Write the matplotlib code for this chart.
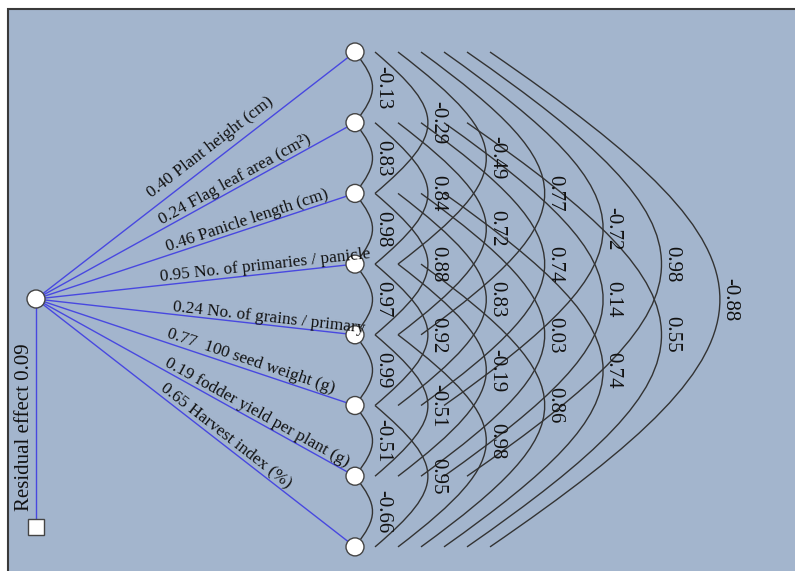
import numpy as np
import matplotlib.pyplot as plt
from matplotlib.path import Path
from matplotlib.patches import PathPatch, Circle, Rectangle

plt.rcParams['font.family'] = ['Liberation Serif', 'DejaVu Serif']

# traits and their direct effects on yield
traits = ['Plant height (cm)', 'Flag leaf area (cm²)', 'Panicle length (cm)',
          'No. of primaries / panicle', 'No. of grains / primary',
          ' 100 seed weight (g)', 'fodder yield per plant (g)', 'Harvest index (%)']
direct = [0.40, 0.24, 0.46, 0.95, 0.24, 0.77, 0.19, 0.65]
residual = 0.09

# correlations between trait i and trait i+gap, one list per gap
r_gap1 = [-0.13, 0.83, 0.98, 0.97, 0.99, -0.51, -0.66]
r_gap2 = [-0.29, 0.84, 0.88, 0.92, -0.51, 0.95]
r_gap3 = [-0.49, 0.72, 0.83, -0.19, 0.98]
r_gap4 = [0.77, 0.74, 0.03, 0.86]
r_gap5 = [-0.72, 0.14, 0.74]
r_gap6 = [0.98, 0.55]
r_gap7 = [-0.88]
corr = [r_gap1, r_gap2, r_gap3, r_gap4, r_gap5, r_gap6, r_gap7]

# layout in pixels (y runs downward)
node_x = 355
node_y = 52 + 70.7 * np.arange(len(traits))
root = (36, 299)
res_box = (36, 527)
label_x = [157, 164, 169, 161, 172, 165, 162, 157]
label_off = [9, 4, 4, 4, 3, 5, 4, 5]

fig = plt.figure(figsize=(7.95, 5.71), dpi=100)
ax = fig.add_axes([0, 0, 1, 1])
ax.set_xlim(0, 795)
ax.set_ylim(571, 0)
ax.axis('off')
ax.add_patch(Rectangle((8, 9), 820, 600, facecolor='#a3b5cd',
                       edgecolor='#3a3a3a', lw=1.5, zorder=0))

# correlation arcs
for g, vals in enumerate(corr, start=1):
    xs = node_x if g == 1 else node_x - 3 + 23 * (g - 1)
    sag = 17.5 + 35.4 * (g - 1)
    u = sag / 0.75
    for i, r in enumerate(vals):
        y1, y2 = node_y[i], node_y[i + g]
        v = 0.85 * (y2 - y1) / 2
        verts = [(xs, y1), (xs + u, y1 + v), (xs + u, y2 - v), (xs, y2)]
        path = Path(verts, [Path.MOVETO, Path.CURVE4, Path.CURVE4, Path.CURVE4])
        ax.add_patch(PathPatch(path, fill=False, ec='#333333', lw=1.0, zorder=2))
        ax.text(xs + sag + 10, (y1 + y2) / 2, f'{r:.2f}', rotation=-90,
                ha='center', va='center', fontsize=15, color='#111111', zorder=4)

# direct paths from the root node
for i, (name, d) in enumerate(zip(traits, direct)):
    ax.plot([root[0], node_x], [root[1], node_y[i]], color='#4848e0', lw=1.0, zorder=2)
    dx, dy = node_x - root[0], node_y[i] - root[1]
    ln = np.hypot(dx, dy)
    ang = -np.degrees(np.arctan2(dy, dx))
    t = (label_x[i] - root[0]) / dx
    px = root[0] + t * dx + label_off[i] * dy / ln
    py = root[1] + t * dy - label_off[i] * dx / ln
    ax.text(px, py, f'{d:.2f} {name}', rotation=ang, rotation_mode='anchor',
            ha='left', va='baseline', fontsize=12.4, color='#111111', zorder=4)

# residual path
ax.plot([root[0], res_box[0]], [root[1], res_box[1]], color='#4848e0', lw=1.0, zorder=2)
ax.add_patch(Rectangle((res_box[0] - 8, res_box[1] - 8), 16, 16, facecolor='white',
                       edgecolor='#444444', lw=1.0, zorder=3))
ax.text(25, 427, f'Residual effect {residual:.2f}', rotation=90, ha='center',
        va='center', fontsize=15, color='#111111', zorder=4)

# nodes
for y in node_y:
    ax.add_patch(Circle((node_x, y), 9, facecolor='white', edgecolor='#444444',
                        lw=1.0, zorder=3))
ax.add_patch(Circle(root, 9, facecolor='white', edgecolor='#444444', lw=1.0, zorder=3))

fig.savefig('out.png', dpi=100, facecolor='white')
